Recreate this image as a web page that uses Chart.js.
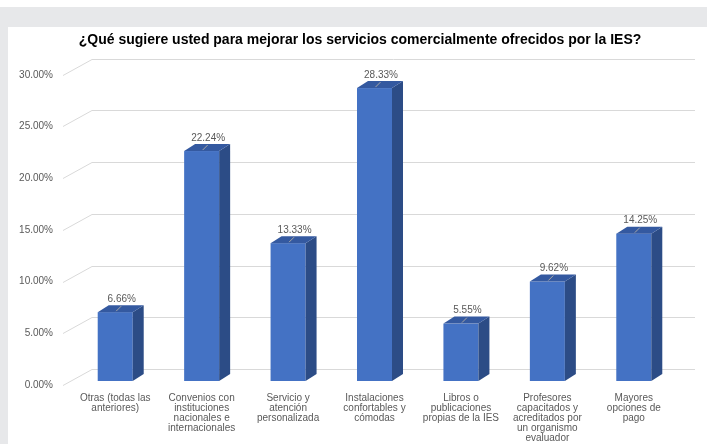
<!DOCTYPE html>
<html>
<head>
<meta charset="utf-8">
<script src="https://cdn.jsdelivr.net/npm/chart.js@4.4.1/dist/chart.umd.min.js"></script>
<style>
  html, body { margin: 0; padding: 0; background: #fff; }
  .frame { position: absolute; left: 0; top: 7px; width: 707px; height: 437px; background: #e7e8ea; }
  .panel { position: absolute; left: 8px; top: 27px; width: 699px; height: 417px; background: #fff; }
</style>
</head>
<body>
<div class="frame"></div>
<div class="panel"><canvas id="chart" width="699" height="417"></canvas></div>
<script>
const categories = [
  ['Otras (todas las', 'anteriores)'],
  ['Convenios con', 'instituciones', 'nacionales e', 'internacionales'],
  ['Servicio y', 'atención', 'personalizada'],
  ['Instalaciones', 'confortables y', 'cómodas'],
  ['Libros o', 'publicaciones', 'propias de la IES'],
  ['Profesores', 'capacitados y', 'acreditados por', 'un organismo', 'evaluador'],
  ['Mayores', 'opciones de', 'pago']
];
const percentages = [6.66, 22.24, 13.33, 28.33, 5.55, 9.62, 14.25];
const yTicks = [0, 5, 10, 15, 20, 25, 30];

const FRONT = '#4472c4', SIDE = '#2c4c86', TOP = '#3459a0';
const GRID = '#d9d9d9';

// back wall grid: short diagonal from the front edge, then flat to the right
const wallGrid = {
  id: 'wallGrid',
  beforeDatasetsDraw(chart) {
    const { ctx, chartArea, scales } = chart;
    ctx.save();
    ctx.strokeStyle = GRID;
    ctx.lineWidth = 1;
    yTicks.forEach(v => {
      const y = Math.round(scales.y.getPixelForValue(v)) + 0.5;
      ctx.beginPath();
      ctx.moveTo(chartArea.left - 9, y);
      ctx.lineTo(chartArea.left + 20, y - 16);
      ctx.lineTo(chartArea.right + 18, y - 16);
      ctx.stroke();
    });
    ctx.restore();
  }
};

// column faces + value labels
const columns3d = {
  id: 'columns3d',
  afterDatasetsDraw(chart) {
    const { ctx } = chart;
    const meta = chart.getDatasetMeta(0);
    const dx = 11, dy = -7, lift = -4;
    ctx.save();
    meta.data.forEach((bar, i) => {
      const w = bar.width;
      const l = bar.x - w / 2, r = bar.x + w / 2;
      const top = bar.y + lift, bottom = bar.base + lift;

      ctx.fillStyle = FRONT;
      ctx.fillRect(l, top, w, bottom - top);

      ctx.fillStyle = SIDE;
      ctx.beginPath();
      ctx.moveTo(r, top);
      ctx.lineTo(r + dx, top + dy);
      ctx.lineTo(r + dx, bottom + dy);
      ctx.lineTo(r, bottom);
      ctx.closePath();
      ctx.fill();

      ctx.fillStyle = TOP;
      ctx.beginPath();
      ctx.moveTo(l, top);
      ctx.lineTo(l + dx, top + dy);
      ctx.lineTo(r + dx, top + dy);
      ctx.lineTo(r, top);
      ctx.closePath();
      ctx.fill();

      // leader from the top face to the label
      ctx.strokeStyle = '#a6a6a6';
      ctx.lineWidth = 1;
      ctx.beginPath();
      ctx.moveTo(bar.x + 1, top - 1);
      ctx.lineTo(bar.x + 6, top - 6);
      ctx.stroke();

      ctx.fillStyle = '#595959';
      ctx.font = "10px 'Liberation Sans', Arial, sans-serif";
      ctx.textAlign = 'center';
      ctx.textBaseline = 'middle';
      ctx.fillText(percentages[i].toFixed(2) + '%', bar.x + 6.5, top - 13);
    });
    ctx.restore();
  }
};

Chart.defaults.font.family = "'Liberation Sans', Arial, sans-serif";
Chart.defaults.font.size = 10;
Chart.defaults.color = '#595959';

new Chart(document.getElementById('chart'), {
  type: 'bar',
  data: {
    labels: categories,
    datasets: [{
      data: percentages,
      backgroundColor: 'rgba(0,0,0,0)',
      borderWidth: 0,
      barPercentage: 0.405,
      categoryPercentage: 1
    }]
  },
  options: {
    responsive: false,
    animation: false,
    layout: { padding: { left: 11, right: 6, top: 0, bottom: 0 } },
    plugins: {
      legend: { display: false },
      tooltip: { enabled: false },
      title: {
        display: true,
        text: '¿Qué sugiere usted para mejorar los servicios comercialmente ofrecidos por la IES?',
        color: '#000',
        font: { size: 14, weight: 'bold' },
        padding: { top: 5, bottom: 26 }
      }
    },
    scales: {
      x: {
        grid: { display: false, drawTicks: false },
        border: { display: false },
        ticks: { padding: 8, maxRotation: 0, autoSkip: false, font: { size: 10, lineHeight: 1.0 } },
        afterFit(s) {
          s.height = 59;
          s.paddingLeft = 0;
          s.paddingRight = 30;
        }
      },
      y: {
        min: 0,
        max: 30,
        grid: { display: false, drawTicks: false },
        border: { display: false },
        ticks: {
          stepSize: 5,
          padding: 19,
          callback: v => v.toFixed(2) + '%'
        },
        afterFit(s) {
          s.width = 53;
        }
      }
    }
  },
  plugins: [wallGrid, columns3d]
});
</script>
</body>
</html>
